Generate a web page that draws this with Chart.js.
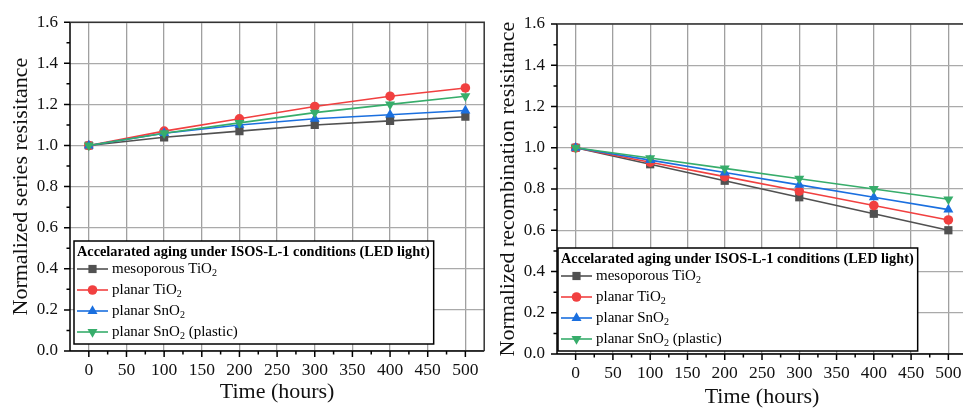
<!DOCTYPE html>
<html>
<head>
<meta charset="utf-8">
<script src="https://cdn.jsdelivr.net/npm/chart.js@4.4.0/dist/chart.umd.min.js"></script>
<style>
  html, body { margin: 0; padding: 0; background: #fff; width: 963px; height: 412px; overflow: hidden; }
  #left { position: absolute; left: 0; top: 0; }
  #right { position: absolute; left: 487px; top: 0; }
</style>
</head>
<body>
<canvas id="left" width="490" height="412"></canvas>
<canvas id="right" width="490" height="412"></canvas>
<script>
// data
const hours = [0, 100, 200, 300, 400, 500];
const xTicks = [0, 50, 100, 150, 200, 250, 300, 350, 400, 450, 500];
const yTicks = [0, 0.2, 0.4, 0.6, 0.8, 1.0, 1.2, 1.4, 1.6];

// legend names, odd pieces are subscripts
const seriesNames = [
  ['mesoporous TiO', '2'],
  ['planar TiO', '2'],
  ['planar SnO', '2'],
  ['planar SnO', '2', ' (plastic)']
];
const legendTitle = 'Accelarated aging under ISOS-L-1 conditions (LED light)';

// normalized series resistance
const rsMesoTiO2   = [1.00, 1.04, 1.07, 1.10, 1.12, 1.14];
const rsPlanarTiO2 = [1.00, 1.07, 1.13, 1.19, 1.24, 1.28];
const rsPlanarSnO2 = [1.00, 1.06, 1.10, 1.13, 1.15, 1.17];
const rsPlastic    = [1.00, 1.06, 1.11, 1.16, 1.20, 1.24];

// normalized recombination resistance
const rrecMesoTiO2   = [1.00, 0.92, 0.84, 0.76, 0.68, 0.60];
const rrecPlanarTiO2 = [1.00, 0.93, 0.86, 0.79, 0.72, 0.65];
const rrecPlanarSnO2 = [1.00, 0.94, 0.88, 0.82, 0.76, 0.70];
const rrecPlastic    = [1.00, 0.95, 0.90, 0.85, 0.80, 0.75];

const colors = ['#515151', '#F14040', '#1A6FDF', '#37AD6B'];
const markers = [
  { style: 'rect', radius: 5.8, rot: 0 },
  { style: 'circle', radius: 4.8, rot: 0 },
  { style: 'triangle', radius: 5.8, rot: 0 },
  { style: 'triangle', radius: 5.8, rot: 180 }
];
const serif = '"Liberation Serif", "Times New Roman", serif';

function drawMarker(ctx, m, x, y) {
  const r = m.radius;
  ctx.beginPath();
  if (m.style === 'rect') {
    const s = r * Math.SQRT1_2;
    ctx.rect(x - s, y - s, 2 * s, 2 * s);
  } else if (m.style === 'circle') {
    ctx.arc(x, y, r, 0, Math.PI * 2);
  } else {
    const d = m.rot ? -1 : 1;
    ctx.moveTo(x, y - d * r);
    ctx.lineTo(x - r * 0.866, y + d * r * 0.5);
    ctx.lineTo(x + r * 0.866, y + d * r * 0.5);
    ctx.closePath();
  }
  ctx.fill();
}

// legend box inside the plot, with subscripts
const boxLegend = {
  id: 'boxLegend',
  afterDatasetsDraw(chart, args, opts) {
    const ctx = chart.ctx, a = chart.chartArea;
    ctx.save();
    ctx.font = 'bold 14.3px ' + serif;
    const w = ctx.measureText(legendTitle).width + 7;
    const h = 103;
    const x0 = a.left + opts.dx, y0 = a.bottom - opts.dy - h;
    ctx.fillStyle = '#fff';
    ctx.fillRect(x0, y0, w, h);
    ctx.strokeStyle = '#000';
    ctx.lineWidth = 1.5;
    ctx.strokeRect(x0, y0, w, h);
    ctx.fillStyle = '#000';
    ctx.textBaseline = 'middle';
    ctx.fillText(legendTitle, x0 + 3, y0 + 11);
    seriesNames.forEach((pieces, i) => {
      const cy = y0 + 28 + i * 21;
      ctx.strokeStyle = colors[i];
      ctx.lineWidth = 1.6;
      ctx.beginPath();
      ctx.moveTo(x0 + 3, cy);
      ctx.lineTo(x0 + 34, cy);
      ctx.stroke();
      ctx.fillStyle = colors[i];
      drawMarker(ctx, markers[i], x0 + 18.5, cy);
      ctx.fillStyle = '#000';
      let tx = x0 + 38;
      pieces.forEach((p, k) => {
        const sub = k % 2 === 1;
        ctx.font = (sub ? '10px ' : '15px ') + serif;
        ctx.fillText(p, tx, cy + (sub ? 4 : 0));
        tx += ctx.measureText(p).width;
      });
    });
    ctx.restore();
  }
};

// axes, tick marks (major + minor) and the top/right frame
const frame = {
  id: 'frame',
  afterDraw(chart) {
    const ctx = chart.ctx, a = chart.chartArea;
    const xs = chart.scales.x, ys = chart.scales.y;
    ctx.save();
    ctx.strokeStyle = '#000';
    ctx.lineWidth = 1.5;
    ctx.beginPath();
    ctx.moveTo(a.left, a.top);
    ctx.lineTo(a.left, a.bottom);
    ctx.lineTo(a.right, a.bottom);
    yTicks.forEach((v, i) => {
      const py = ys.getPixelForValue(v);
      ctx.moveTo(a.left, py); ctx.lineTo(a.left - 6, py);
      if (i < yTicks.length - 1) {
        const my = ys.getPixelForValue((v + yTicks[i + 1]) / 2);
        ctx.moveTo(a.left, my); ctx.lineTo(a.left - 3.5, my);
      }
    });
    xTicks.forEach((v, i) => {
      const px = xs.getPixelForValue(v);
      ctx.moveTo(px, a.bottom); ctx.lineTo(px, a.bottom + 6);
      if (i < xTicks.length - 1) {
        const mx = xs.getPixelForValue((v + xTicks[i + 1]) / 2);
        ctx.moveTo(mx, a.bottom); ctx.lineTo(mx, a.bottom + 3.5);
      }
    });
    ctx.stroke();
    ctx.strokeStyle = '#333';
    ctx.beginPath();
    ctx.moveTo(a.left, a.top);
    ctx.lineTo(a.right, a.top);
    ctx.lineTo(a.right, a.bottom);
    ctx.stroke();
    ctx.restore();
  }
};

function makeChart(id, series, yTitle, lay) {
  const datasets = series.map((vals, i) => ({
    label: seriesNames[i].join(''),
    data: hours.map((h, k) => ({ x: h, y: vals[k] })),
    borderColor: colors[i],
    backgroundColor: colors[i],
    borderWidth: 1.6,
    pointStyle: markers[i].style,
    pointRadius: markers[i].radius,
    pointRotation: markers[i].rot,
    pointBorderWidth: 0,
    order: series.length - i
  }));

  return new Chart(document.getElementById(id), {
    type: 'line',
    data: { datasets: datasets },
    options: {
      responsive: false,
      animation: false,
      events: [],
      layout: { padding: { left: 0, right: lay.right, top: lay.top, bottom: 0 } },
      plugins: {
        legend: { display: false },
        tooltip: { enabled: false },
        boxLegend: { dx: lay.legDx, dy: lay.legDy }
      },
      scales: {
        x: {
          type: 'linear',
          min: -25,
          max: 525,
          afterBuildTicks: s => { s.ticks = xTicks.map(v => ({ value: v })); },
          afterFit: s => { s.height = lay.xHeight; },
          grid: { color: '#a0a0a0', lineWidth: 1.3, drawTicks: false },
          border: { display: false },
          ticks: {
            autoSkip: false, maxRotation: 0, padding: 9,
            color: '#111', font: { family: serif, size: 17.5 },
            callback: v => String(v)
          },
          title: {
            display: true, text: 'Time (hours)', color: '#111',
            font: { family: serif, size: 22 },
            padding: { top: 0, bottom: lay.xTitlePad }
          }
        },
        y: {
          min: 0,
          max: 1.6,
          afterBuildTicks: s => { s.ticks = yTicks.map(v => ({ value: v })); },
          afterFit: s => { s.width = 70; },
          grid: { color: '#aaaaaa', lineWidth: 1.3, drawTicks: false },
          border: { display: false },
          ticks: {
            padding: 12, color: '#111',
            font: { family: serif, size: 17 },
            callback: v => Number(v).toFixed(1)
          },
          title: {
            display: true, text: yTitle, color: '#111',
            font: { family: serif, size: 22 },
            padding: { top: 8, bottom: 0 }
          }
        }
      }
    },
    plugins: [boxLegend, frame]
  });
}

makeChart('left',
  [rsMesoTiO2, rsPlanarTiO2, rsPlanarSnO2, rsPlastic],
  'Normalized series resisitance',
  { right: 3, top: 16, xHeight: 61, xTitlePad: 7, legDx: 4, legDy: 7 });

makeChart('right',
  [rrecMesoTiO2, rrecPlanarTiO2, rrecPlanarSnO2, rrecPlastic],
  'Normalized recombination resisitance',
  { right: 10, top: 24, xHeight: 58, xTitlePad: 2, legDx: 1, legDy: 3 });
</script>
</body>
</html>
